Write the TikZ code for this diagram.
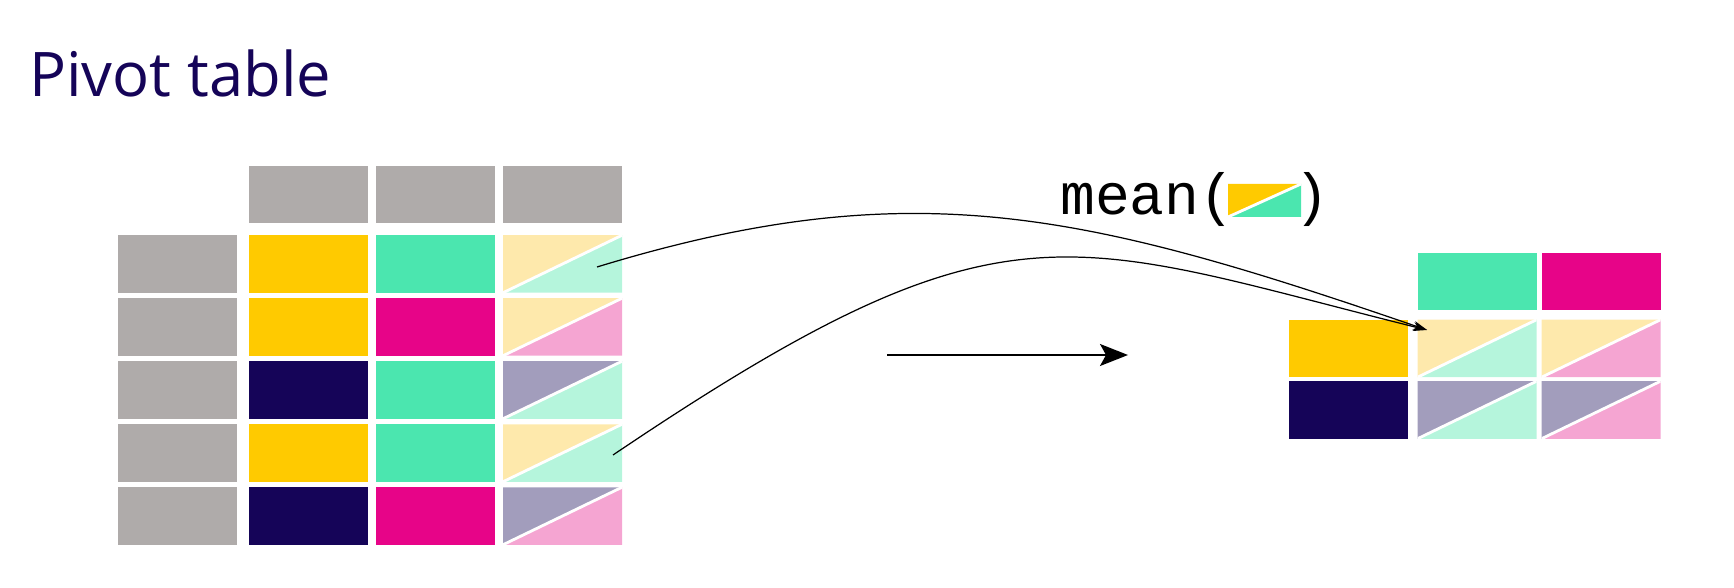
\documentclass[tikz,border=0pt]{standalone}
\usepackage{fontspec}
\setmainfont{Open Sans}
\newfontfamily\codefont{Liberation Mono}
\usetikzlibrary{arrows.meta}

\definecolor{pdgrey}{HTML}{AFABAA}
\definecolor{pdyellow}{HTML}{FFCA00}
\definecolor{pdgreen}{HTML}{4BE6AF}
\definecolor{pdpink}{HTML}{E70488}
\definecolor{pdnavy}{HTML}{150458}
\definecolor{ltyellow}{HTML}{FEE9AC}
\definecolor{ltgreen}{HTML}{B5F5DC}
\definecolor{ltnavy}{HTML}{A29DBC}
\definecolor{ltpink}{HTML}{F5A5D2}

\begin{document}
\begin{tikzpicture}[
    cell/.style={minimum width=2.38cm, minimum height=1.15cm, inner sep=0pt, outer sep=0pt, fill=#1},
    split/.style 2 args={cell=none, path picture={
        \fill[#1] (path picture bounding box.south west) |- (path picture bounding box.north east) -- cycle;
        \fill[#2] (path picture bounding box.south west) -| (path picture bounding box.north east) -- cycle;
        \draw[white, line width=1.6pt] (path picture bounding box.south west) -- (path picture bounding box.north east);}},
    curve/.style={line width=0.7pt, -{Stealth[length=2.8mm, width=1.8mm]}},
    bigarrow/.style={line width=1pt, -{Stealth[length=5.6mm, width=4.4mm, inset=1.2mm]}}
]
    \useasboundingbox (0,0) rectangle (34.68,-11.76);

    % Title
    \node[anchor=base west, inner sep=0pt, text=pdnavy, font=\fontsize{35}{42}\selectfont] (title) at (0.58,-1.94) {Pivot table};

    % Left table: header and keys
    \node[cell=pdgrey] (h1) at (6.17,-3.89) {};
    \node[cell=pdgrey] (h2) at (8.71,-3.89) {};
    \node[cell=pdgrey] (h3) at (11.25,-3.89) {};
    \foreach \y [count=\i] in {-5.28,-6.54,-7.80,-9.06,-10.32}
        \node[cell=pdgrey] (k\i) at (3.55,\y) {};

    % Left table: values
    \node[cell=pdyellow] (l11) at (6.17,-5.28) {};
    \node[cell=pdgreen] (l12) at (8.71,-5.28) {};
    \node[split={ltyellow}{ltgreen}] (l13) at (11.25,-5.28) {};
    \node[cell=pdyellow] (l21) at (6.17,-6.54) {};
    \node[cell=pdpink] (l22) at (8.71,-6.54) {};
    \node[split={ltyellow}{ltpink}] (l23) at (11.25,-6.54) {};
    \node[cell=pdnavy] (l31) at (6.17,-7.80) {};
    \node[cell=pdgreen] (l32) at (8.71,-7.80) {};
    \node[split={ltnavy}{ltgreen}] (l33) at (11.25,-7.80) {};
    \node[cell=pdyellow] (l41) at (6.17,-9.06) {};
    \node[cell=pdgreen] (l42) at (8.71,-9.06) {};
    \node[split={ltyellow}{ltgreen}] (l43) at (11.25,-9.06) {};
    \node[cell=pdnavy] (l51) at (6.17,-10.32) {};
    \node[cell=pdpink] (l52) at (8.71,-10.32) {};
    \node[split={ltnavy}{ltpink}] (l53) at (11.25,-10.32) {};

    % Right table
    \node[cell=pdgreen] (rh1) at (29.54,-5.63) {};
    \node[cell=pdpink] (rh2) at (32.02,-5.63) {};
    \node[cell=pdyellow] (rk1) at (26.96,-6.97) {};
    \node[cell=pdnavy] (rk2) at (26.96,-8.20) {};
    \node[split={ltyellow}{ltgreen}] (r11) at (29.54,-6.97) {};
    \node[split={ltyellow}{ltpink}] (r12) at (32.02,-6.97) {};
    \node[split={ltnavy}{ltgreen}] (r21) at (29.54,-8.20) {};
    \node[split={ltnavy}{ltpink}] (r22) at (32.02,-8.20) {};

    % mean( ... )
    \node[anchor=base west, inner sep=0pt, font=\codefont\fontsize{33}{40}\selectfont] (mean) at (21.2,-4.30) {mean(};
    \node[split={pdyellow}{pdgreen}, minimum width=1.46cm, minimum height=0.66cm] (swatch) at (25.29,-4.01) {};
    \node[anchor=base west, inner sep=0pt, font=\codefont\fontsize{33}{40}\selectfont] (close) at (25.88,-4.30) {)};

    % Curved connectors
    \coordinate (from1) at (11.94,-5.34);
    \coordinate (from2) at (12.26,-9.10);
    \coordinate (target) at (28.54,-6.60);
    \draw[curve] (from1) .. controls +(17:6.6) and +(161:7.2) .. (target);
    \draw[curve] (from2) .. controls +(34:9.5) and +(166:7.5) .. (target);

    % Straight arrow
    \coordinate (a0) at (17.74,-7.10);
    \coordinate (a1) at (22.56,-7.10);
    \draw[bigarrow] (a0) -- (a1);
\end{tikzpicture}
\end{document}
